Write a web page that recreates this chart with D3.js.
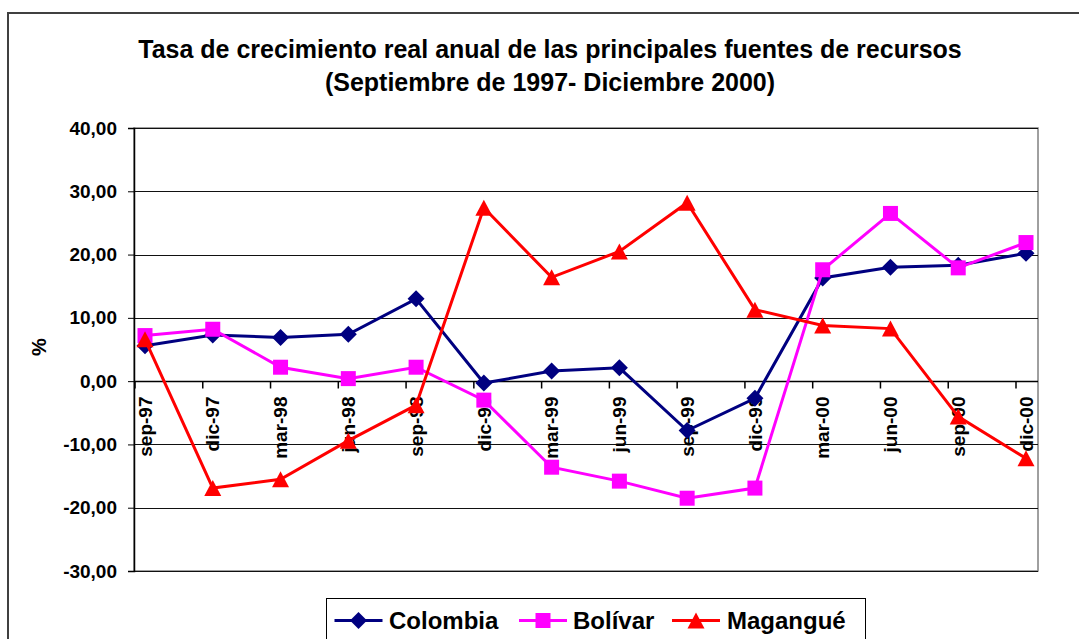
<!DOCTYPE html>
<html>
<head>
<meta charset="utf-8">
<script src="https://cdn.jsdelivr.net/npm/d3@7"></script>
<style>
  html, body { margin: 0; padding: 0; background: #fff; }
  svg { display: block; }
  text { font-family: "Liberation Sans", Arial, sans-serif; font-weight: bold; fill: #000; }
</style>
</head>
<body>
<svg id="chart" width="1079" height="639"></svg>
<script>
const categories = ["sep-97","dic-97","mar-98","jun-98","sep-98","dic-98","mar-99","jun-99","sep-99","dic-99","mar-00","jun-00","sep-00","dic-00"];
const colombia = [5.6, 7.3, 6.9, 7.4, 13.0, -0.3, 1.6, 2.1, -7.8, -2.7, 16.3, 18.0, 18.3, 20.2];
const bolivar  = [7.2, 8.2, 2.2, 0.4, 2.2, -3.0, -13.6, -15.8, -18.5, -16.9, 17.6, 26.5, 17.9, 21.9];
const magangue = [6.6, -16.9, -15.5, -9.4, -3.8, 27.4, 16.4, 20.5, 28.2, 11.3, 8.8, 8.3, -5.6, -12.2];
const yTicks = [-30, -20, -10, 0, 10, 20, 30, 40];
const seriesNames = ["Colombia", "Bolívar", "Magangué"];
const titleLines = ["Tasa de crecimiento real anual de las principales fuentes de recursos", "(Septiembre de 1997- Diciembre 2000)"];

const series = [
  { name: seriesNames[0], values: colombia, color: "#000080", shape: "diamond" },
  { name: seriesNames[1], values: bolivar,  color: "#FF00FF", shape: "square" },
  { name: seriesNames[2], values: magangue, color: "#FF0000", shape: "triangle" }
];

const svg = d3.select("#chart");
const plot = { left: 134, right: 1038, top: 128, bottom: 571 };

const y = d3.scaleLinear().domain([-30, 40]).range([plot.bottom, plot.top]);
const x = d3.scalePoint().domain(categories).range([145, 1026]);
const xTick = d3.scalePoint().domain(categories).range([135, 1016]);

// outer frame
svg.append("rect").attr("x", 8).attr("y", 13).attr("width", 1090).attr("height", 650)
  .attr("fill", "none").attr("stroke", "#404040").attr("stroke-width", 2);

// title
svg.append("text").attr("x", 550).attr("y", 58).attr("text-anchor", "middle")
  .style("font-size", "25px").text(titleLines[0]);
svg.append("text").attr("x", 550).attr("y", 91).attr("text-anchor", "middle")
  .style("font-size", "25px").text(titleLines[1]);

// plot border
svg.append("rect").attr("x", plot.left).attr("y", plot.top)
  .attr("width", plot.right - plot.left).attr("height", plot.bottom - plot.top)
  .attr("fill", "none").attr("stroke", "#808080").attr("stroke-width", 1.5);

// gridlines
svg.append("g").selectAll("line").data(yTicks).join("line")
  .attr("x1", plot.left).attr("x2", plot.right)
  .attr("y1", d => Math.round(y(d)) + 0.5).attr("y2", d => Math.round(y(d)) + 0.5)
  .attr("stroke", "#111").attr("stroke-width", 1);

// y axis
const yAxis = svg.append("g").attr("transform", `translate(${plot.left},0)`)
  .call(d3.axisLeft(y).tickValues(yTicks).tickSize(6).tickPadding(11)
    .tickFormat(d => d3.format(".2f")(d).replace(".", ",").replace("−", "-")));
yAxis.select(".domain").attr("stroke", "#000").attr("stroke-width", 1.5);
yAxis.selectAll(".tick line").attr("stroke", "#000");
yAxis.selectAll(".tick text").style("font-size", "19px").style("font-family", "Liberation Sans, Arial, sans-serif").style("font-weight", "bold");

// y title
svg.append("text").attr("transform", "translate(46,347) rotate(-90)")
  .attr("text-anchor", "middle").style("font-size", "20px").text("%");

// x axis at zero
const zeroY = Math.round(y(0)) + 0.5;
svg.append("line").attr("x1", plot.left).attr("x2", plot.right)
  .attr("y1", zeroY).attr("y2", zeroY).attr("stroke", "#000").attr("stroke-width", 1.5);
svg.append("g").selectAll("line").data(categories).join("line")
  .attr("x1", d => xTick(d)).attr("x2", d => xTick(d))
  .attr("y1", zeroY).attr("y2", zeroY + 7).attr("stroke", "#000").attr("stroke-width", 1.5);
svg.append("g").selectAll("text").data(categories).join("text")
  .attr("transform", d => `translate(${x(d)},${zeroY + 15}) rotate(-90)`)
  .attr("text-anchor", "end").attr("dy", "0.35em")
  .style("font-size", "19px").text(d => d);

// markers
function markerPath(shape) {
  if (shape === "diamond") return "M0,-8.5L8.5,0L0,8.5L-8.5,0Z";
  if (shape === "square") return "M-7.5,-7.5H7.5V7.5H-7.5Z";
  return "M0,-8L8.5,8L-8.5,8Z";
}

const line = d3.line().x((d, i) => x(categories[i])).y(d => y(d));

series.forEach(s => {
  const g = svg.append("g");
  g.append("path").datum(s.values).attr("d", line)
    .attr("fill", "none").attr("stroke", s.color).attr("stroke-width", 3).attr("stroke-linejoin", "miter");
  g.selectAll("path.m").data(s.values).join("path").attr("class", "m")
    .attr("transform", (d, i) => `translate(${x(categories[i])},${y(d)})`)
    .attr("d", markerPath(s.shape)).attr("fill", s.color);
});

// legend
svg.append("rect").attr("x", 326.5).attr("y", 598.5).attr("width", 539).attr("height", 60)
  .attr("fill", "#fff").attr("stroke", "#000").attr("stroke-width", 1);
const legendItems = [
  { sx: 358.5, tx: 389 },
  { sx: 543, tx: 573 },
  { sx: 696, tx: 727 }
];
series.forEach((s, i) => {
  const it = legendItems[i];
  const ly = 620.5;
  svg.append("line").attr("x1", it.sx - 24).attr("x2", it.sx + 24)
    .attr("y1", ly).attr("y2", ly).attr("stroke", s.color).attr("stroke-width", 3);
  svg.append("path").attr("transform", `translate(${it.sx},${ly})`)
    .attr("d", markerPath(s.shape)).attr("fill", s.color);
  svg.append("text").attr("x", it.tx).attr("y", 629).style("font-size", "24px").text(s.name);
});
</script>
</body>
</html>
